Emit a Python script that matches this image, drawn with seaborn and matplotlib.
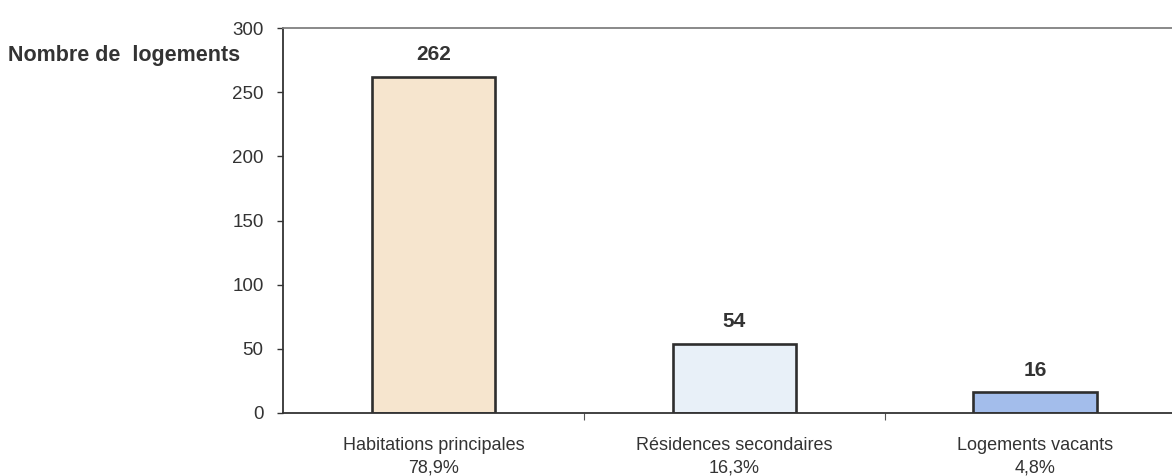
import matplotlib
matplotlib.use("Agg")
import matplotlib.pyplot as plt
import seaborn as sns
import pandas as pd

categories = ["Habitations principales", "Résidences secondaires", "Logements vacants"]
shares = ["78,9%", "16,3%", "4,8%"]
counts = [262, 54, 16]
bar_colors = ["#F6E5CE", "#E8F0F8", "#A3BDEB"]
y_ticks = [0, 50, 100, 150, 200, 250, 300]

sns.set_theme(style="white")
plt.rcParams["font.family"] = ["Liberation Sans", "DejaVu Sans"]

df = pd.DataFrame({
    "label": [f"{c}\n{s}" for c, s in zip(categories, shares)],
    "count": counts,
})

fig = plt.figure(figsize=(11.72, 4.76), dpi=100)
ax = fig.add_axes([0.2415, 0.1324, 0.7700, 0.8086])

sns.barplot(data=df, x="label", y="count", hue="label",
            palette=bar_colors, saturation=1, legend=False, width=0.41,
            edgecolor="#2e2e2e", linewidth=1.9, ax=ax)

ax.set_xlim(-0.5, 2.5)
ax.set_ylim(0, 300)
ax.set_yticks(y_ticks)
ax.set_yticklabels([str(t) for t in y_ticks], fontsize=13.5, color="#333333")
ax.tick_params(axis="y", direction="out", length=4, width=1, color="#333333", left=True, pad=10)

ax.set_xticks([0, 1, 2])
ax.set_xticklabels(df["label"], fontsize=13, color="#333333", linespacing=1.45)
ax.tick_params(axis="x", which="major", length=0, pad=17)
ax.set_xticks([0.5, 1.5], minor=True)
ax.tick_params(axis="x", which="minor", direction="out", length=5, width=0.8, color="#555555", bottom=True)

ax.set_xlabel("")
ax.set_ylabel("")

for side in ["left", "bottom"]:
    ax.spines[side].set_color("#333333")
    ax.spines[side].set_linewidth(1.3)
ax.spines["top"].set_color("#808080")
ax.spines["top"].set_linewidth(1.3)
ax.spines["right"].set_visible(False)

for i, v in enumerate(counts):
    ax.text(i, v + 13, str(v), ha="center", va="baseline",
            fontsize=15, fontweight="bold", color="#333333")

fig.text(8 / 1172, 1 - 56 / 476, "Nombre de  logements", ha="left", va="center",
         fontsize=15.5, fontweight="bold", color="#333333")

fig.savefig("out.png", dpi=100, facecolor="white")
